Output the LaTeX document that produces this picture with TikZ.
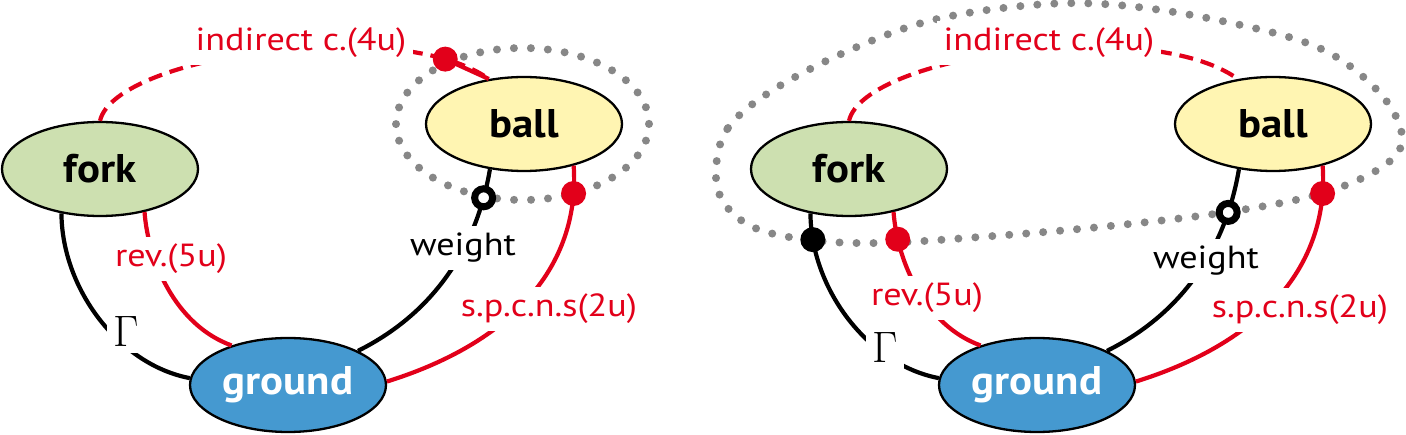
\documentclass[tikz,border=0pt]{standalone}
\usepackage{fontspec}
\setsansfont{PT Sans}
\newfontfamily\lblfont[FakeStretch=1.13]{PT Sans}
\newfontfamily\entfont[FakeStretch=1.07]{PT Sans Bold}
\usetikzlibrary{shapes.geometric}
\definecolor{myred}{RGB}{226,0,26}
\definecolor{dotgray}{RGB}{135,135,135}
\definecolor{forkc}{RGB}{205,224,176}
\definecolor{ballc}{RGB}{255,245,178}
\definecolor{groundc}{RGB}{69,153,208}
\begin{document}
\begin{tikzpicture}[x=1pt,y=-1pt,
  ent/.style={ellipse, draw=black, line width=2.3pt, minimum width=196pt, minimum height=94pt, inner sep=0pt, font=\entfont\fontsize{40}{40}\selectfont},
  redc/.style={line width=4.2pt, draw=myred},
  blkc/.style={line width=4.2pt, draw=black},
  dashc/.style={redc, dash pattern=on 14pt off 8pt},
  lbl/.style={fill=white, inner sep=7pt, font=\lblfont\fontsize{32}{32}\selectfont},
  rlbl/.style={lbl, text=myred},
  gam/.style={fill=white, inner sep=6pt, font=\rmfamily\fontsize{44}{44}\selectfont},
  rdot/.style={circle, fill=myred, inner sep=0pt, minimum size=25pt},
  bdot/.style={circle, fill=black, inner sep=0pt, minimum size=25pt},
  odot/.style={circle, draw=black, fill=white, line width=7pt, inner sep=0pt, minimum size=18pt},
  grayd/.style={draw=dotgray, line width=8pt, line cap=round, dash pattern=on 0pt off 17pt}
]
\useasboundingbox (0,0) rectangle (1406,435);
% gray groupings
\draw[grayd] (522.5,124) ellipse [x radius=126.5, y radius=76];
\draw[grayd] plot[smooth cycle, tension=0.6] coordinates {(716,170) (728,128) (773,90) (850,50) (933,20) (1033,5) (1117,5) (1217,20) (1317,47) (1377,90) (1402,135) (1385,165) (1323,193) (1228,212) (1100,227) (980,237) (880,243) (810,240) (755,228) (724,203)};
% left panel nodes
\node[ent, fill=forkc] (f1) at (100,169) {fork};
\node[ent, fill=ballc] (b1) at (524,124) {ball};
\node[ent, fill=groundc, text=white] (g1) at (288,385) {ground};
% right panel nodes
\node[ent, fill=forkc] (f2) at (849,169) {fork};
\node[ent, fill=ballc] (b2) at (1273,124) {ball};
\node[ent, fill=groundc, text=white] (g2) at (1037,385) {ground};
% left connectors
\draw[dashc] (f1.90) .. controls (115,55) and (400,15) .. coordinate[pos=0.87] (d1) (b1.128);
\draw[redc] (d1) -- (b1.128);
\draw[redc] (f1.-44) .. controls (148,260) and (175,325) .. (g1.145);
\draw[blkc] (f1.-131) .. controls (62,290) and (120,365) .. (g1.176);
\draw[blkc] (b1.-127) .. controls (478,240) and (440,310) .. coordinate[pos=0.135] (o1) (g1.26);
\draw[redc] (b1.-40) .. controls (580,260) and (520,340) .. coordinate[pos=0.1] (s1) (g1.2);
% left labels and markers
\node[rlbl] (ind1) at (301,43) {indirect c.(4u)};
\node[rlbl] (rev1) at (171,259) {rev.(5u)};
\node[gam] (gm1) at (126,332) {Γ};
\node[lbl] (wt1) at (463,248) {weight};
\node[rlbl] (sp1) at (549,309) {s.p.c.n.s(2u)};
\node[rdot] (dd1) at (d1) {};
\node[odot] (oo1) at (o1) {};
\node[rdot] (ss1) at (s1) {};
% right connectors
\draw[dashc] (f2.90) .. controls (864,55) and (1149,15) .. (b2.128);
\draw[redc] (f2.-44) .. controls (897,260) and (924,325) .. coordinate[pos=0.18] (r2) (g2.145);
\draw[blkc] (f2.-131) .. controls (811,290) and (869,365) .. coordinate[pos=0.115] (k2) (g2.176);
\draw[blkc] (b2.-127) .. controls (1227,240) and (1189,310) .. coordinate[pos=0.205] (o2) (g2.26);
\draw[redc] (b2.-40) .. controls (1329,260) and (1269,340) .. coordinate[pos=0.1] (s2) (g2.2);
% right labels and markers
\node[rlbl] (ind2) at (1049,43) {indirect c.(4u)};
\node[rlbl] (rev2) at (927,298) {rev.(5u)};
\node[gam] (gm2) at (885,348) {Γ};
\node[lbl] (wt2) at (1206,261) {weight};
\node[rlbl] (sp2) at (1300,310) {s.p.c.n.s(2u)};
\node[bdot] (kk2) at (k2) {};
\node[rdot] (rr2) at (r2) {};
\node[odot] (oo2) at (o2) {};
\node[rdot] (ss2) at (s2) {};
\end{tikzpicture}
\end{document}
